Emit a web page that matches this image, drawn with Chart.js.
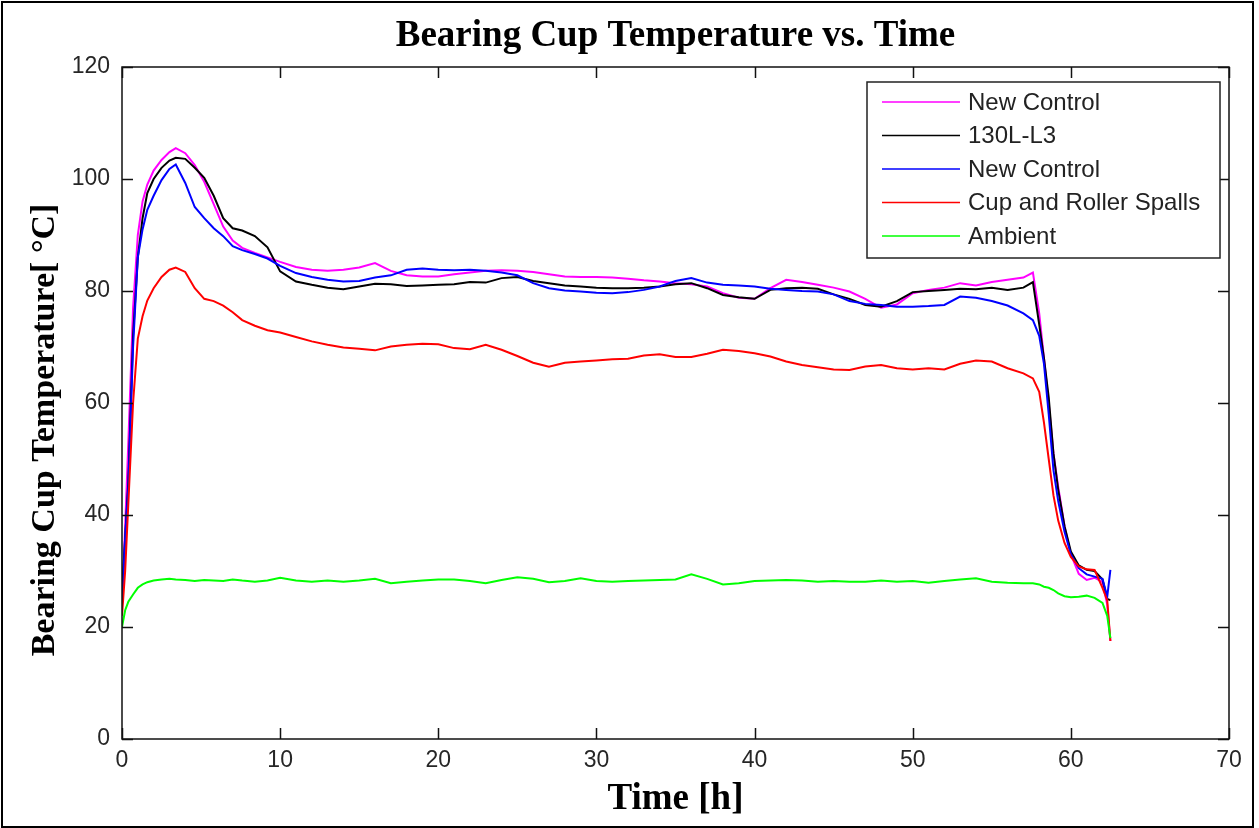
<!DOCTYPE html>
<html>
<head>
<meta charset="utf-8">
<title>Bearing Cup Temperature vs. Time</title>
<script src="https://cdn.jsdelivr.net/npm/chart.js@4.4.1/dist/chart.umd.min.js"></script>
<style>
    html, body { margin: 0; padding: 0; background: #fff; }
    #wrap { width: 1259px; height: 828px; position: relative; }
</style>
</head>
<body>
<div id="wrap"><canvas id="line-chart"></canvas></div>
<script>
"use strict";

// time axis shared by all sensors [h]
const hours = [
    0, 0.2, 0.4, 0.7, 1.0, 1.3, 1.6, 2.0, 2.5, 3.0, 3.4, 4.0, 4.6, 5.2, 5.8, 6.4, 7.0, 7.6, 8.4, 9.2,
    10, 11, 12, 13, 14, 15, 16, 17, 18, 19,
    20, 21, 22, 23, 24, 25, 26, 27, 28, 29,
    30, 31, 32, 33, 34, 35, 36, 37, 38, 39,
    40, 41, 42, 43, 44, 45, 46, 47, 48, 49,
    50, 51, 52, 53, 54, 55, 56, 57,
    57.6, 58.0, 58.3, 58.6, 58.9, 59.2, 59.6, 60.0, 60.5, 61.0, 61.5, 62.0, 62.3, 62.5
];

const newControlA = [
    24, 38, 53, 77, 90, 96, 99, 101.5, 103.4, 104.8, 105.5, 104.6, 102.5, 99.5, 95.5, 91.5, 89, 87.7, 86.8, 86,
    85.2, 84.3, 83.8, 83.6, 83.8, 84.2, 85, 83.6, 82.8, 82.6,
    82.6, 83, 83.3, 83.6, 83.7, 83.6, 83.4, 83, 82.6, 82.5,
    82.5, 82.4, 82.2, 81.9, 81.7, 81.4, 81.2, 80.8, 79.6, 78.8,
    78.6, 80.5, 82, 81.6, 81.1, 80.6, 79.9, 78.6, 77, 77.6,
    79.6, 80.2, 80.6, 81.4, 81, 81.6, 82, 82.4,
    83.3, 76, 68, 60, 51, 45, 38, 33, 29.5, 28.4, 28.8, 28, 24, 17.5
];

const l3 = [
    26, 36, 46, 72, 86, 93, 97.5, 100, 102, 103.3, 103.8, 103.6, 102, 100.2, 97, 93, 91.2, 90.8, 89.8, 87.8,
    83.5, 81.7, 81.1, 80.6, 80.3, 80.8, 81.3, 81.2, 80.9, 81,
    81.1, 81.2, 81.6, 81.5, 82.3, 82.5, 81.8, 81.4, 81, 80.8,
    80.6, 80.5, 80.5, 80.6, 80.8, 81.2, 81.4, 80.5, 79.3, 78.9,
    78.6, 80.2, 80.5, 80.6, 80.4, 79.4, 78.6, 77.5, 77.2, 78.2,
    79.8, 80, 80.2, 80.4, 80.3, 80.6, 80.2, 80.6,
    81.6, 74, 68, 61, 51, 44.5, 38, 33.5, 31, 30.2, 30, 28.5, 25, 24.8
];

const newControlB = [
    24, 36, 45, 70, 86, 91, 94.5, 97, 99.8, 101.8, 102.6, 99.3, 95, 93, 91.2, 89.8, 88, 87.3, 86.6, 85.8,
    84.5, 83.2, 82.5, 82, 81.7, 81.8, 82.4, 82.8, 83.8, 84,
    83.8, 83.7, 83.8, 83.6, 83.3, 82.8, 81.4, 80.5, 80.1, 79.9,
    79.7, 79.6, 79.8, 80.2, 80.8, 81.8, 82.3, 81.5, 81.1, 81,
    80.8, 80.4, 80.2, 80, 79.9, 79.4, 78.2, 77.7, 77.5, 77.2,
    77.2, 77.3, 77.5, 79, 78.8, 78.2, 77.4, 76,
    74.8, 72, 67, 58, 48, 42.5, 37, 33, 30.5, 29.4, 29, 28.6, 25.4, 30.2
];

const spalls = [
    22, 30, 42, 60, 71.5, 75.5, 78.3, 80.5, 82.5, 83.8, 84.2, 83.4, 80.5, 78.6, 78.2, 77.4, 76.2, 74.8, 73.8, 73,
    72.6, 71.8, 71, 70.4, 69.9, 69.7, 69.4, 70.1, 70.4, 70.6,
    70.5, 69.8, 69.6, 70.4, 69.5, 68.4, 67.2, 66.5, 67.2, 67.4,
    67.6, 67.8, 67.9, 68.5, 68.7, 68.2, 68.2, 68.8, 69.5, 69.3,
    68.9, 68.3, 67.4, 66.8, 66.4, 66, 65.9, 66.5, 66.8, 66.2,
    66, 66.2, 66, 67, 67.6, 67.4, 66.2, 65.3,
    64.4, 62, 56.5, 50, 43.5, 39, 35, 32.5, 30.8, 30.3, 30.2, 27, 24.8, 17.5
];

const ambient = [
    20, 23, 24.5, 25.8, 27, 27.6, 28, 28.3, 28.5, 28.6, 28.5, 28.4, 28.2, 28.4, 28.3, 28.2, 28.5, 28.3, 28.1, 28.3,
    28.8, 28.3, 28.1, 28.3, 28.1, 28.3, 28.6, 27.8, 28.1, 28.3,
    28.5, 28.5, 28.2, 27.8, 28.4, 28.9, 28.6, 28, 28.2, 28.7,
    28.2, 28.1, 28.2, 28.3, 28.4, 28.5, 29.4, 28.6, 27.6, 27.8,
    28.2, 28.3, 28.4, 28.3, 28.1, 28.2, 28.1, 28.1, 28.3, 28.1,
    28.2, 27.9, 28.2, 28.5, 28.7, 28.1, 27.9, 27.8,
    27.8, 27.6, 27.2, 27, 26.6, 26, 25.5, 25.3, 25.4, 25.6, 25.2, 24.3, 22, 18
];

const seriesLabels = ["New Control", "130L-L3", "New Control", "Cup and Roller Spalls", "Ambient"];
const seriesValues = [newControlA, l3, newControlB, spalls, ambient];
const seriesColors = ["#ff00ff", "#000000", "#0000ff", "#ff0000", "#00ff00"];
const yTitle = "Bearing Cup Temperature[ °C]";

function toPoints(values) {
    return hours.map(function (h, i) { return { x: h, y: values[i] }; });
}

const serif = "'Liberation Serif', 'Times New Roman', serif";
const sans = "'Liberation Sans', Arial, sans-serif";

// frame, box, inward ticks and the y title like the matlab figure
const frameBox = {
    id: "frameBox",
    afterLayout: function (chart) {
        // center the title over the axes, not the whole canvas
        var tb = chart.titleBlock;
        tb.left = chart.chartArea.left;
        tb.right = chart.chartArea.right;
        tb.width = tb.right - tb.left;
    },
    afterDraw: function (chart) {
        var ctx = chart.ctx;
        var a = chart.chartArea;
        var xs = chart.scales.x;
        var ys = chart.scales.y;
        ctx.save();
        ctx.strokeStyle = "#000";
        ctx.lineWidth = 2;
        ctx.strokeRect(2, 2, 1251, 825);

        ctx.lineWidth = 1.5;
        ctx.strokeStyle = "#111";
        ctx.strokeRect(a.left, a.top, a.right - a.left, a.bottom - a.top);
        ctx.beginPath();
        xs.ticks.forEach(function (t) {
            var px = Math.round(xs.getPixelForValue(t.value)) + 0.5;
            ctx.moveTo(px, a.bottom); ctx.lineTo(px, a.bottom - 11);
            ctx.moveTo(px, a.top); ctx.lineTo(px, a.top + 11);
        });
        ys.ticks.forEach(function (t) {
            var py = Math.round(ys.getPixelForValue(t.value)) + 0.5;
            ctx.moveTo(a.left, py); ctx.lineTo(a.left + 11, py);
            ctx.moveTo(a.right, py); ctx.lineTo(a.right - 11, py);
        });
        ctx.stroke();

        ctx.translate(45, 430);
        ctx.rotate(-Math.PI / 2);
        ctx.font = "bold 34px " + serif;
        ctx.fillStyle = "#000";
        ctx.textAlign = "center";
        ctx.textBaseline = "middle";
        ctx.fillText(yTitle, 0, 0);
        ctx.restore();
    }
};

// legend box inside the axes, top right
const boxLegend = {
    id: "boxLegend",
    afterDraw: function (chart) {
        var ctx = chart.ctx;
        var a = chart.chartArea;
        var w = 353, h = 176;
        var left = a.right - 9 - w;
        var top = a.top + 15;
        ctx.save();
        ctx.fillStyle = "#fff";
        ctx.fillRect(left, top, w, h);
        ctx.strokeStyle = "#222";
        ctx.lineWidth = 1.5;
        ctx.strokeRect(left, top, w, h);
        ctx.font = "24px " + sans;
        ctx.textBaseline = "middle";
        chart.data.datasets.forEach(function (ds, i) {
            var y = top + 20 + i * 33.5;
            ctx.strokeStyle = ds.borderColor;
            ctx.lineWidth = 1.5;
            ctx.beginPath();
            ctx.moveTo(left + 15, y);
            ctx.lineTo(left + 93, y);
            ctx.stroke();
            ctx.fillStyle = "#222";
            ctx.fillText(ds.label, left + 101, y + 1);
        });
        ctx.restore();
    }
};

var ctx = document.getElementById("line-chart").getContext("2d");
var chart = new Chart(ctx, {
    type: "line",
    data: {
        datasets: seriesValues.map(function (values, i) {
            return {
                label: seriesLabels[i],
                data: toPoints(values),
                borderColor: seriesColors[i],
                backgroundColor: seriesColors[i],
                borderWidth: 2,
                pointRadius: 0,
                tension: 0,
                order: seriesValues.length - i
            };
        })
    },
    options: {
        responsive: true,
        maintainAspectRatio: false,
        animation: false,
        layout: { padding: { top: 2, right: 30, left: 0, bottom: 0 } },
        plugins: {
            legend: { display: false },
            tooltip: { enabled: false },
            title: {
                display: true,
                text: "Bearing Cup Temperature vs. Time",
                color: "#000",
                font: { family: serif, size: 37, weight: "bold" },
                padding: { top: 12, bottom: 8.6 }
            }
        },
        scales: {
            x: {
                type: "linear",
                min: 0,
                max: 70,
                grid: { display: false, drawTicks: false },
                border: { display: false },
                ticks: {
                    stepSize: 10,
                    padding: 8,
                    color: "#262626",
                    font: { family: sans, size: 23 }
                },
                title: {
                    display: true,
                    text: "Time [h]",
                    color: "#000",
                    font: { family: serif, size: 37, weight: "bold" },
                    padding: { top: 0, bottom: 6 }
                },
                afterFit: function (scale) { scale.height = 89; }
            },
            y: {
                min: 0,
                max: 120,
                grid: { display: false, drawTicks: false },
                border: { display: false },
                ticks: {
                    stepSize: 20,
                    padding: 12,
                    color: "#262626",
                    font: { family: sans, size: 23 }
                },
                afterFit: function (scale) { scale.width = 122; }
            }
        }
    },
    plugins: [frameBox, boxLegend]
});
</script>
</body>
</html>
